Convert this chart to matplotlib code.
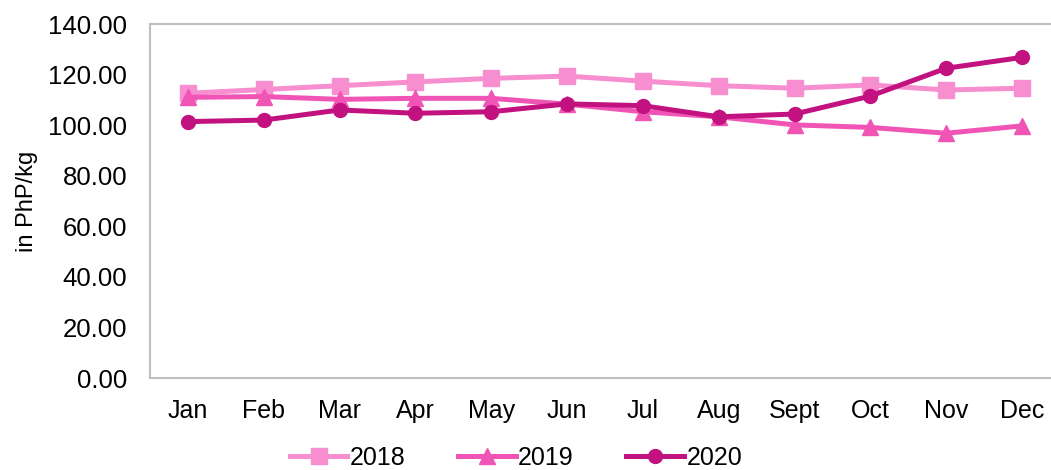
import matplotlib
matplotlib.use("Agg")
import matplotlib.pyplot as plt

months = ["Jan", "Feb", "Mar", "Apr", "May", "Jun", "Jul", "Aug", "Sept", "Oct", "Nov", "Dec"]
s2018 = [112.6, 114.1, 115.6, 117.1, 118.5, 119.4, 117.4, 115.6, 114.6, 115.9, 113.9, 114.6]
s2019 = [111.0, 111.3, 110.2, 110.6, 110.6, 108.3, 105.3, 103.3, 100.1, 99.1, 96.8, 99.7]
s2020 = [101.4, 102.0, 106.0, 104.7, 105.3, 108.4, 107.7, 103.3, 104.4, 111.5, 122.5, 126.8]
yticks = [0, 20, 40, 60, 80, 100, 120, 140]

plt.rcParams['font.family'] = ['Liberation Sans', 'DejaVu Sans']

W, H = 1051, 470
fig = plt.figure(figsize=(W / 100, H / 100), dpi=100)
left, right, top, bottom = 150, 1060, 24, 378
ax = fig.add_axes([left / W, 1 - bottom / H, (right - left) / W, (bottom - top) / H])

x = list(range(len(months)))
ax.plot(x, s2018, color="#F78ED0", lw=3.6, marker="s", ms=11, label="2018")
ax.plot(x, s2019, color="#F055B5", lw=3.6, marker="^", ms=11, label="2019")
ax.plot(x, s2020, color="#C11280", lw=3.6, marker="o", ms=10, label="2020")

ax.set_xlim(-0.5, 11.5)
ax.set_ylim(0, 140)
ax.set_yticks(yticks)
ax.set_yticklabels([f"{v:.2f}" for v in yticks], fontsize=18.5)
ax.set_xticks(x)
ax.set_xticklabels(months, fontsize=18)
ax.tick_params(length=0)
ax.tick_params(axis='x', pad=15)
ax.tick_params(axis='y', pad=16.5)
for s in ax.spines.values():
    s.set_color("#BFBFBF")
    s.set_linewidth(1.5)
ax.set_ylabel("in PhP/kg", fontsize=17, labelpad=7)

fig.legend(loc="center", bbox_to_anchor=(0.491, 1 - 458 / H), ncol=3, frameon=False,
           fontsize=18, handlelength=2.3, columnspacing=2.1, handletextpad=0.1,
           borderaxespad=0)

fig.savefig("out.png", dpi=100)
